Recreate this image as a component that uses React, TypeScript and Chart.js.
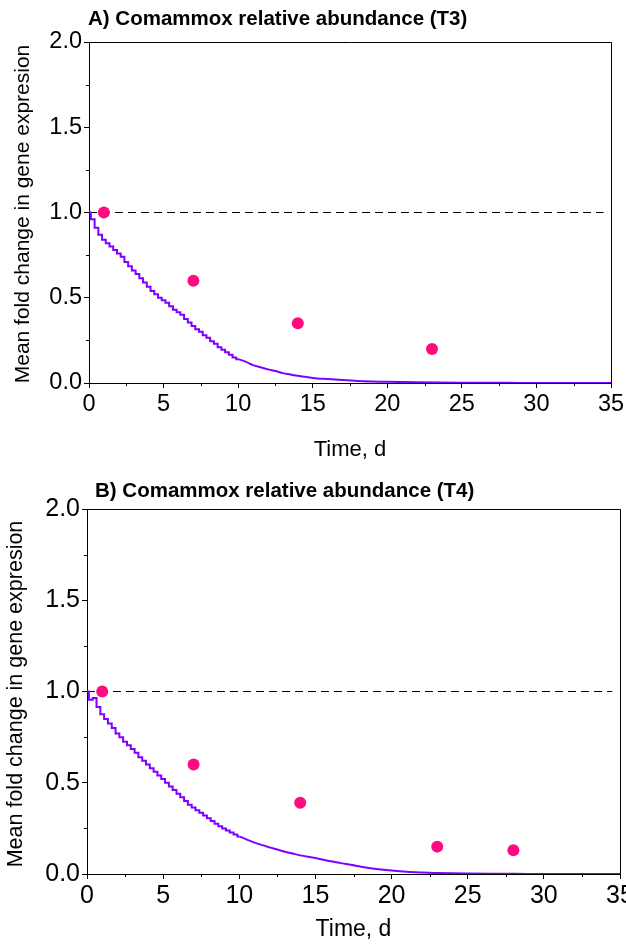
import React, { useEffect, useRef } from "react";
import { Chart, registerables } from "chart.js";

Chart.register(...registerables);

// ---------- data ----------
const TITLE_A = "A) Comammox relative abundance (T3)";
const TITLE_B = "B) Comammox relative abundance (T4)";
const X_TITLE = "Time, d";
const Y_TITLE = "Mean fold change in gene expresion";

const X_TICKS = [0, 5, 10, 15, 20, 25, 30, 35];
const X_MINOR = [2.5, 7.5, 12.5, 17.5, 22.5, 27.5, 32.5];
const Y_TICKS = [0, 0.5, 1.0, 1.5, 2.0];
const Y_MINOR = [0.25, 0.75, 1.25, 1.75];

const REF_X = [0, 34.5];
const REF_Y = [1, 1];

const FIT_T_A = [
  0, 0.25, 0.5, 0.75, 1, 1.25, 1.5, 1.75, 2, 2.25, 2.5, 2.75, 3, 3.25, 3.5, 3.75,
  4, 4.25, 4.5, 4.75, 5, 5.25, 5.5, 5.75, 6, 6.25, 6.5, 6.75, 7, 7.25, 7.5, 7.75,
  8, 8.25, 8.5, 8.75, 9, 9.25, 9.5, 9.75, 10, 10.5, 11, 11.5, 12, 12.5, 13, 13.5,
  14, 15, 16, 17, 18, 19, 20, 22, 25, 28, 30, 35,
];
const FIT_V_A = [
  1.0, 0.96, 0.91, 0.87, 0.84, 0.82, 0.8, 0.78, 0.76, 0.74, 0.71, 0.685, 0.66, 0.64, 0.615, 0.59,
  0.565, 0.54, 0.52, 0.5, 0.485, 0.47, 0.45, 0.43, 0.415, 0.4, 0.375, 0.355, 0.335, 0.315, 0.3, 0.28,
  0.265, 0.245, 0.23, 0.21, 0.195, 0.18, 0.165, 0.15, 0.14, 0.125, 0.105, 0.092, 0.08, 0.07, 0.058, 0.05,
  0.042, 0.03, 0.023, 0.017, 0.012, 0.009, 0.007, 0.004, 0.002, 0.001, 0.0005, 0,
];
const OBS_T_A = [1, 7, 14, 23];
const OBS_V_A = [1.0, 0.6, 0.35, 0.2];

const FIT_T_B = [
  0, 0.25, 0.5, 0.75, 1, 1.25, 1.5, 1.75, 2, 2.25, 2.5, 2.75, 3, 3.25, 3.5, 3.75,
  4, 4.25, 4.5, 4.75, 5, 5.25, 5.5, 5.75, 6, 6.25, 6.5, 6.75, 7, 7.25, 7.5, 7.75,
  8, 8.25, 8.5, 8.75, 9, 9.25, 9.5, 9.75, 10, 10.5, 11, 11.5, 12, 12.5, 13, 13.5,
  14, 15, 16, 17, 18, 19, 20, 21, 22, 23, 25, 28, 30, 35,
];
const FIT_V_B = [
  1.0, 0.955, 0.965, 0.915, 0.875, 0.85, 0.825, 0.8, 0.77, 0.75, 0.725, 0.705, 0.685, 0.665, 0.64, 0.62,
  0.6, 0.58, 0.56, 0.54, 0.52, 0.5, 0.48, 0.46, 0.44, 0.42, 0.4, 0.38, 0.365, 0.35, 0.335, 0.32,
  0.305, 0.29, 0.275, 0.262, 0.25, 0.238, 0.227, 0.216, 0.206, 0.188, 0.172, 0.158, 0.146, 0.134, 0.122, 0.112,
  0.102, 0.088, 0.07, 0.055, 0.04, 0.028, 0.019, 0.012, 0.008, 0.005, 0.003, 0.001, 0.0005, 0,
];
const OBS_T_B = [1, 7, 14, 23, 28];
const OBS_V_B = [1.0, 0.6, 0.39, 0.15, 0.13];

// day after which the model curve is drawn smooth instead of stair-stepped
const STEP_END = 10;

// ---------- styling ----------
const FONT = "Arial, 'Liberation Sans', Helvetica, sans-serif";
const FIT_COLOR = "#7F00FF";
const OBS_COLOR = "#FF0A7F";

type Spec = {
  top: number;
  height: number;
  title: string;
  titleX: number;
  titleY: number;
  titleSize: number;
  area: { left: number; right: number; top: number; bottom: number };
  tickSize: number;
  yTitleX: number;
  yTitleY: number;
  yTitleSize: number;
  xTitleY: number;
  xTitleSize: number;
  fitT: number[];
  fitV: number[];
  obsT: number[];
  obsV: number[];
};

const SPECS: Spec[] = [
  {
    top: 0,
    height: 470,
    title: TITLE_A,
    titleX: 88,
    titleY: 25,
    titleSize: 20.5,
    area: { left: 89, right: 611, top: 42, bottom: 383 },
    tickSize: 23.5,
    yTitleX: 29,
    yTitleY: 214,
    yTitleSize: 21,
    xTitleY: 456,
    xTitleSize: 22,
    fitT: FIT_T_A,
    fitV: FIT_V_A,
    obsT: OBS_T_A,
    obsV: OBS_V_A,
  },
  {
    top: 470,
    height: 477,
    title: TITLE_B,
    titleX: 95,
    titleY: 27,
    titleSize: 20.5,
    area: { left: 87, right: 620, top: 39, bottom: 404 },
    tickSize: 25,
    yTitleX: 21.5,
    yTitleY: 224,
    yTitleSize: 21.5,
    xTitleY: 466,
    xTitleSize: 23,
    fitT: FIT_T_B,
    fitV: FIT_V_B,
    obsT: OBS_T_B,
    obsV: OBS_V_B,
  },
];

const WIDTH = 626;

function makeConfig(spec: Spec): any {
  const decor = {
    id: "decor",
    afterDraw(chart: any) {
      const ctx = chart.ctx;
      const a = chart.chartArea;
      const xs = chart.scales.x;
      const ys = chart.scales.y;
      ctx.save();
      ctx.strokeStyle = "#000";
      ctx.lineWidth = 1;
      // top and right frame lines
      ctx.beginPath();
      ctx.moveTo(Math.round(a.left) + 0.5, Math.round(a.top) + 0.5);
      ctx.lineTo(Math.round(a.right) + 0.5, Math.round(a.top) + 0.5);
      ctx.lineTo(Math.round(a.right) + 0.5, Math.round(a.bottom) + 0.5);
      ctx.stroke();
      // minor ticks
      ctx.beginPath();
      X_MINOR.forEach((v) => {
        const px = Math.round(xs.getPixelForValue(v)) + 0.5;
        ctx.moveTo(px, a.bottom);
        ctx.lineTo(px, a.bottom + 3);
      });
      Y_MINOR.forEach((v) => {
        const py = Math.round(ys.getPixelForValue(v)) + 0.5;
        ctx.moveTo(a.left, py);
        ctx.lineTo(a.left - 3, py);
      });
      ctx.stroke();
      ctx.fillStyle = "#000";
      // chart title
      ctx.font = `bold ${spec.titleSize}px ${FONT}`;
      ctx.textAlign = "left";
      ctx.textBaseline = "alphabetic";
      ctx.fillText(spec.title, spec.titleX, spec.titleY);
      // x title
      ctx.font = `${spec.xTitleSize}px ${FONT}`;
      ctx.textAlign = "center";
      ctx.fillText(X_TITLE, (a.left + a.right) / 2, spec.xTitleY);
      // y title
      ctx.font = `${spec.yTitleSize}px ${FONT}`;
      ctx.translate(spec.yTitleX, spec.yTitleY);
      ctx.rotate(-Math.PI / 2);
      ctx.fillText(Y_TITLE, 0, 0);
      ctx.restore();
    },
  };

  const ar = spec.area;
  const fitPts = spec.fitT.map((t, i) => ({ x: t, y: spec.fitV[i] }));
  const early = fitPts.filter((p) => p.x <= STEP_END);
  const late = fitPts.filter((p) => p.x >= STEP_END);
  const curveStyle = {
    showLine: true,
    borderColor: FIT_COLOR,
    borderWidth: 2,
    pointRadius: 0,
    fill: false,
  };
  return {
    type: "scatter",
    data: {
      datasets: [
        {
          label: "observed",
          data: spec.obsT.map((t, i) => ({ x: t, y: spec.obsV[i] })),
          pointRadius: 6,
          pointHoverRadius: 6,
          backgroundColor: OBS_COLOR,
          borderWidth: 0,
          showLine: false,
        },
        { label: "model (early)", data: early, stepped: "middle", ...curveStyle },
        { label: "model (late)", data: late, tension: 0.3, ...curveStyle },
        {
          label: "reference",
          data: REF_X.map((t, i) => ({ x: t, y: REF_Y[i] })),
          showLine: true,
          borderColor: "#000",
          borderWidth: 1.2,
          borderDash: [8, 5],
          pointRadius: 0,
          fill: false,
        },
      ],
    },
    options: {
      responsive: false,
      animation: false,
      events: [],
      layout: {
        padding: { left: 0, top: ar.top, right: WIDTH - ar.right, bottom: 0 },
      },
      plugins: {
        legend: { display: false },
        tooltip: { enabled: false },
        title: { display: false },
      },
      scales: {
        x: {
          type: "linear",
          min: 0,
          max: 35,
          afterBuildTicks: (scale: any) => {
            scale.ticks = X_TICKS.map((v) => ({ value: v }));
          },
          afterFit: (scale: any) => {
            scale.height = spec.height - ar.bottom;
            scale.paddingLeft = 0;
            scale.paddingRight = 0;
          },
          ticks: {
            autoSkip: false,
            maxRotation: 0,
            minRotation: 0,
            padding: 2,
            color: "#000",
            font: { family: FONT, size: spec.tickSize },
            callback: (v: any) => String(v),
          },
          grid: {
            display: true,
            drawOnChartArea: false,
            drawTicks: true,
            tickLength: 5,
            tickColor: "#000",
            color: "#000",
          },
          border: { display: true, color: "#000", width: 1 },
        },
        y: {
          type: "linear",
          min: 0,
          max: 2,
          afterBuildTicks: (scale: any) => {
            scale.ticks = Y_TICKS.map((v) => ({ value: v }));
          },
          afterFit: (scale: any) => {
            scale.width = ar.left;
            scale.paddingTop = 0;
            scale.paddingBottom = 0;
          },
          ticks: {
            padding: 2,
            color: "#000",
            font: { family: FONT, size: spec.tickSize },
            callback: (v: any) => Number(v).toFixed(1),
          },
          grid: {
            display: true,
            drawOnChartArea: false,
            drawTicks: true,
            tickLength: 5,
            tickColor: "#000",
            color: "#000",
          },
          border: { display: true, color: "#000", width: 1 },
        },
      },
    },
    plugins: [decor],
  };
}

function Panel({ spec }: { spec: Spec }) {
  const ref = useRef<HTMLCanvasElement | null>(null);
  useEffect(() => {
    if (!ref.current) return;
    const chart = new Chart(ref.current, makeConfig(spec));
    return () => chart.destroy();
  }, [spec]);
  return (
    <div style={{ position: "absolute", left: 0, top: spec.top, width: WIDTH, height: spec.height }}>
      <canvas ref={ref} width={WIDTH} height={spec.height} style={{ display: "block" }} />
    </div>
  );
}

export default function App() {
  return (
    <div style={{ position: "absolute", left: 0, top: 0, width: WIDTH, height: 947, background: "#fff", overflow: "hidden" }}>
      {SPECS.map((s, i) => (
        <Panel key={i} spec={s} />
      ))}
    </div>
  );
}
